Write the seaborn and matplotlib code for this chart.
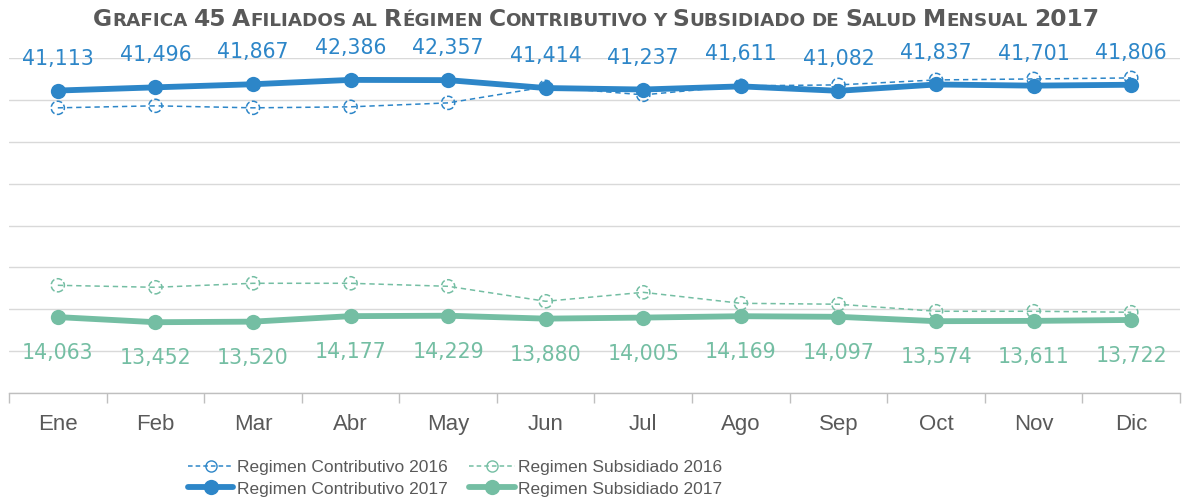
import matplotlib
matplotlib.use("Agg")
import matplotlib.pyplot as plt
from matplotlib.transforms import IdentityTransform
from matplotlib.lines import Line2D
import numpy as np
import pandas as pd
import seaborn as sns

# ---- data ----
months = ["Ene", "Feb", "Mar", "Abr", "May", "Jun", "Jul", "Ago", "Sep", "Oct", "Nov", "Dic"]
contributivo_2016 = [39050, 39290, 39050, 39170, 39640, 41550, 40600, 41670, 41790, 42380, 42500, 42620]
subsidiado_2016 = [17860, 17620, 18100, 18100, 17740, 15950, 17020, 15710, 15600, 14760, 14760, 14640]
contributivo_2017 = [41113, 41496, 41867, 42386, 42357, 41414, 41237, 41611, 41082, 41837, 41701, 41806]
subsidiado_2017 = [14063, 13452, 13520, 14177, 14229, 13880, 14005, 14169, 14097, 13574, 13611, 13722]
series_names = ["Regimen Contributivo 2016", "Regimen Contributivo 2017",
                "Regimen Subsidiado 2016", "Regimen Subsidiado 2017"]
title_text = "Grafica 45 Afiliados al Régimen Contributivo y Subsidiado de Salud Mensual 2017"

BLUE = "#2D86C8"
GREEN = "#74BEA3"
GRAY_TXT = "#595959"
GRID = "#D9D9D9"

sns.set_theme(style="white")
plt.rcParams["font.family"] = ["DejaVu Sans"]

df = pd.DataFrame({
    "mes": months * 4,
    "x": list(range(12)) * 4,
    "valor": contributivo_2016 + contributivo_2017 + subsidiado_2016 + subsidiado_2017,
    "serie": sum([[s] * 12 for s in series_names], []),
})

W, H = 1182, 504
fig = plt.figure(figsize=(W / 100, H / 100), dpi=100)
ax = fig.add_axes([9 / W, (H - 393) / H, (1180 - 9) / W, (393 - 58) / H])

# 2016 series: thin dashed lines with open dashed circles
for name, color in [(series_names[0], BLUE), (series_names[2], GREEN)]:
    d = df[df["serie"] == name]
    sns.lineplot(data=d, x="x", y="valor", ax=ax, color=color, lw=1.1,
                 linestyle=(0, (3.5, 2.5)), legend=False, zorder=3)
    ax.scatter(d["x"], d["valor"], s=90, facecolors="none", edgecolors=color,
               linewidths=1.1, linestyles="--", zorder=4)

# 2017 series: thick solid lines with filled circles
for name, color in [(series_names[1], BLUE), (series_names[3], GREEN)]:
    d = df[df["serie"] == name]
    sns.lineplot(data=d, x="x", y="valor", ax=ax, color=color, lw=4.2,
                 marker="o", markersize=11, markeredgewidth=0, legend=False, zorder=5)

# value labels
for i, v in enumerate(contributivo_2017):
    ax.annotate(f"{v:,}", (i, v), xytext=(0, 23), textcoords="offset points",
                ha="center", va="center", fontsize=14.8, color=BLUE)
for i, v in enumerate(subsidiado_2017):
    ax.annotate(f"{v:,}", (i, v), xytext=(0, -26), textcoords="offset points",
                ha="center", va="center", fontsize=14.8, color=GREEN)

# axes styling
ax.set_xlim(-0.5, 11.5)
ax.set_ylim(5000, 45000)
ax.set_yticks(np.arange(5000, 45001, 5000))
ax.set_yticklabels([])
ax.set_xticks(range(12))
ax.set_xticklabels(months, fontsize=16, color=GRAY_TXT, family="Liberation Sans")
ax.set_xticks(np.arange(-0.5, 12, 1), minor=True)
ax.tick_params(axis="x", which="major", length=0, pad=15)
ax.tick_params(axis="x", which="minor", length=7, width=1, color="#BFBFBF", bottom=True)
ax.tick_params(axis="y", length=0)
ax.set_xlabel("")
ax.set_ylabel("")
ax.grid(axis="y", color=GRID, lw=1)
ax.grid(axis="x", visible=False)
for s in ["top", "right", "left"]:
    ax.spines[s].set_visible(False)
ax.spines["bottom"].set_color("#BFBFBF")
ax.spines["bottom"].set_linewidth(1)
ax.set_axisbelow(True)

# legend
handles = [
    Line2D([], [], color=BLUE, lw=1.1, linestyle=(0, (3, 2)), marker="o", markersize=8,
           markerfacecolor="none", markeredgewidth=1),
    Line2D([], [], color=BLUE, lw=4.2, marker="o", markersize=11, markeredgewidth=0),
    Line2D([], [], color=GREEN, lw=1.1, linestyle=(0, (3, 2)), marker="o", markersize=8,
           markerfacecolor="none", markeredgewidth=1),
    Line2D([], [], color=GREEN, lw=4.2, marker="o", markersize=11, markeredgewidth=0),
]
fig.legend(handles, series_names, loc="upper left", bbox_to_anchor=(176 / W, 1 - 448 / H),
           ncol=2, frameon=False, handlelength=2.6, handletextpad=0.2,
           columnspacing=1.26, labelspacing=0.35, borderpad=0.2,
           prop={"family": "Liberation Sans", "size": 12.5}, labelcolor=GRAY_TXT)

# small-caps title: capitals keep the large size, lowercase letters become small capitals
def title_pieces(text, big, small):
    out = []
    words = text.split(" ")
    for wi, word in enumerate(words):
        run, run_big = "", None
        for ch in word:
            is_big = ch.isupper() or ch.isdigit()
            if run and is_big != run_big:
                out.append((run, big if run_big else small, False))
                run = ""
            run += ch.upper()
            run_big = is_big
        if run:
            out.append((run, big if run_big else small, False))
        if wi < len(words) - 1:
            out.append((" ", small, True))
    return out

def draw_title(big, small, baseline_px, center_px, space_frac=0.32):
    texts = []
    for txt, size, is_space in title_pieces(title_text, big, small):
        if is_space:
            texts.append((None, size))
            continue
        t = fig.text(0, baseline_px, txt, transform=IdentityTransform(), fontsize=size,
                     fontweight="bold", color=GRAY_TXT, ha="left", va="baseline")
        texts.append((t, size))
    fig.canvas.draw()
    r = fig.canvas.get_renderer()
    widths = []
    for t, size in texts:
        if t is None:
            widths.append(space_frac * size * 100 / 72)
        else:
            widths.append(t.get_window_extent(r).width)
    total = sum(widths)
    x = center_px - total / 2
    for (t, size), w in zip(texts, widths):
        if t is not None:
            t.set_x(x)
        x += w
    return total

draw_title(16.8, 13.2, H - 26, 596)

fig.savefig("out.png", dpi=100)
